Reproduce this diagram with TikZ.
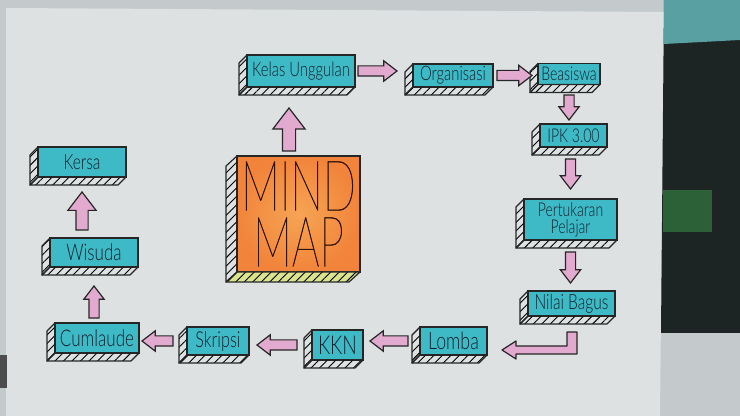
\documentclass[tikz,border=0pt]{standalone}
\usepackage{fontspec}
\IfFontExistsTF{Lato Light}
  {\newfontfamily\handfont{Lato Light}[FakeStretch=0.74]}
  {\newfontfamily\handfont{Fira Sans}[FakeStretch=0.72]}
\IfFontExistsTF{Lato Thin}
  {\newfontfamily\titlefont{Lato Thin}[FakeStretch=0.62,FakeBold=0.6]}
  {\IfFontExistsTF{Lato Light}
    {\newfontfamily\titlefont{Lato Light}[FakeStretch=0.62]}
    {\newfontfamily\titlefont{Fira Sans}[FakeStretch=0.6]}}
\usetikzlibrary{calc,shapes.arrows,patterns.meta}

\definecolor{paper}{RGB}{221,225,226}
\definecolor{wall}{RGB}{196,202,204}
\definecolor{cloth}{RGB}{28,36,36}
\definecolor{clothteal}{RGB}{88,160,162}
\definecolor{clothgreen}{RGB}{44,96,54}
\definecolor{boxcyan}{RGB}{62,186,198}
\definecolor{arrowpink}{RGB}{226,170,206}
\definecolor{mindorange}{RGB}{241,132,58}
\definecolor{mindlight}{RGB}{246,164,84}
\definecolor{limey}{RGB}{218,228,140}
\definecolor{ink}{RGB}{20,32,44}
\definecolor{mindink}{RGB}{48,18,8}

\newcommand{\hs}[1]{\handfont\fontsize{#1}{#1}\selectfont}

% side panels of a box: left face and bottom face, hatched
\newcommand{\sides}[3][]{%
  \draw[panel] (#2.north west) -- ++(#3) -- ($(#2.south west)+(#3)$) -- (#2.south west) -- cycle;
  \draw[panel,#1] (#2.south west) -- ($(#2.south west)+(#3)$) -- ($(#2.south east)+(#3)$) -- (#2.south east) -- cycle;
}

% block arrow between two points, with gaps at both ends
\newcommand{\flow}[5][]{%
  \path let \p1=($(#2)!#4!(#3)$), \p2=($(#3)!#5!(#2)$), \n1={veclen(\x2-\x1,\y2-\y1)} in
    (\p1) -- node[flowarrow, #1, pos=0, anchor=tail, sloped, minimum height=\n1] {} (\p2);
}

\begin{document}
\begin{tikzpicture}[
  x=0.5pt, y=-0.5pt,
  box/.style={draw=black!85, line width=0.6pt, fill=boxcyan, inner sep=0pt, outer sep=0pt, text=ink, font=\hs{10}, align=center},
  boxsize/.style 2 args={minimum width=#1*0.5pt, minimum height=#2*0.5pt},
  core/.style={draw=black!85, line width=0.6pt, inner color=mindlight, outer color=mindorange, inner sep=0pt, outer sep=0pt,
    text=mindink, align=center, font=\titlefont\fontsize{35}{28}\selectfont},
  panel/.style={draw=black!85, line width=0.6pt, line join=round, pattern={Lines[angle=45,distance=3pt,line width=0.45pt]}},
  flowarrow/.style={single arrow, draw=black!85, line width=0.6pt, fill=arrowpink, inner xsep=0pt, inner ysep=2.25pt,
    single arrow head extend=2.5pt, single arrow tip angle=75, allow upside down, outer sep=0pt},
  big/.style={inner ysep=3pt, single arrow head extend=4.75pt},
  wide/.style={inner ysep=2.75pt, single arrow head extend=4pt},
  flowline/.style={draw=black!85, line width=0.6pt, fill=arrowpink, line join=round}
]
\useasboundingbox (0,0) rectangle (740,416);

% background: paper on the table, cloth on the right
\fill[wall] (0,0) rectangle (740,416);
\fill[paper] (6,8) -- (664,12) -- (660,416) -- (6,416) -- cycle;
\fill[cloth] (664,0) -- (740,0) -- (740,333) -- (661,333) -- cycle;
\fill[clothteal] (664,0) -- (740,0) -- (740,40) -- (664,44) -- cycle;
\fill[clothgreen] (663,190) rectangle (712,232);
\fill[black!70] (0,355) rectangle (7,388);

% centre
\node[core, minimum width=61.5pt, minimum height=58pt] (mind) at (298.5,214) {MIND\\MAP};
\sides[preaction={fill=limey}]{mind}{-11,10}

% boxes
\node[box, boxsize={108}{32}] (kelas) at (301,71) {Kelas Unggulan};
\node[box, boxsize={80}{23}] (org) at (453,75.5) {Organisasi};
\node[box, boxsize={62}{21}, font=\hs{9.5}] (beasiswa) at (569,74) {Beasiswa};
\node[box, boxsize={67}{23}, font=\hs{9.5}] (ipk) at (573.5,135.5) {IPK 3.00};
\node[box, boxsize={93}{41}, font={\handfont\fontsize{9.5}{8.5}\selectfont}] (pert) at (570.5,219.5) {Pertukaran\\Pelajar};
\node[box, boxsize={87}{25}, font=\hs{10.5}] (nilai) at (571.5,303.5) {Nilai Bagus};
\node[box, boxsize={67}{28}, font=\hs{12}] (lomba) at (453.5,341) {Lomba};
\node[box, boxsize={51}{30}, font=\hs{13}] (kkn) at (337.5,345) {KKN};
\node[box, boxsize={62}{28}, font=\hs{11}] (skripsi) at (218,341) {Skripsi};
\node[box, boxsize={84}{30}, font=\hs{11.5}] (cumlaude) at (97,338) {Cumlaude};
\node[box, boxsize={88}{29}, font=\hs{11.5}] (wisuda) at (94,252.5) {Wisuda};
\node[box, boxsize={88}{30}, font=\hs{10.5}] (kersa) at (82,162) {Kersa};

\foreach \b in {kelas,org,beasiswa,ipk,pert,nilai,lomba,kkn,skripsi,cumlaude,wisuda,kersa}
  \sides{\b}{-8,8};

% arrows
\coordinate (mindtop) at ($(mind.north)+(-9.5,0)$);
\flow[big]{mindtop}{mindtop |- kelas.south}{2.5pt}{10.5pt}
\flow{kelas.east}{kelas.east -| org.west}{1.5pt}{8pt}
\flow{org.east}{org.east -| beasiswa.west}{2pt}{3pt}
\flow{beasiswa.south}{beasiswa.south |- ipk.north}{5.25pt}{2pt}
\flow{pert.north |- ipk.south}{pert.north}{6pt}{5pt}
\flow{pert.south}{pert.south |- nilai.north}{6pt}{4pt}
\coordinate (bend) at ($(nilai.south)+(5.5,38)$);
\coordinate (ltip) at ($(lomba.east)+(15,9)$);
\draw[flowline] ($(nilai.south)+(-4.5,16)$) -- ++(10,0) -- (bend) -- ($(ltip)+(14,4)$) -- ++(0,5) -- (ltip)
  -- ++(14,-9) -- ++(0,5) -- ($(bend)+(-10,-8)$) -- cycle;
\flow{lomba.west}{lomba.west -| kkn.east}{6pt}{3.5pt}
\flow{kkn.west}{kkn.west -| skripsi.east}{7.5pt}{4pt}
\flow{skripsi.west}{skripsi.west -| cumlaude.east}{7pt}{1.5pt}
\flow{wisuda.south |- cumlaude.north}{wisuda.south}{2.5pt}{9.5pt}
\flow[wide]{kersa.south |- wisuda.north}{kersa.south}{4pt}{7.5pt}
\end{tikzpicture}
\end{document}
